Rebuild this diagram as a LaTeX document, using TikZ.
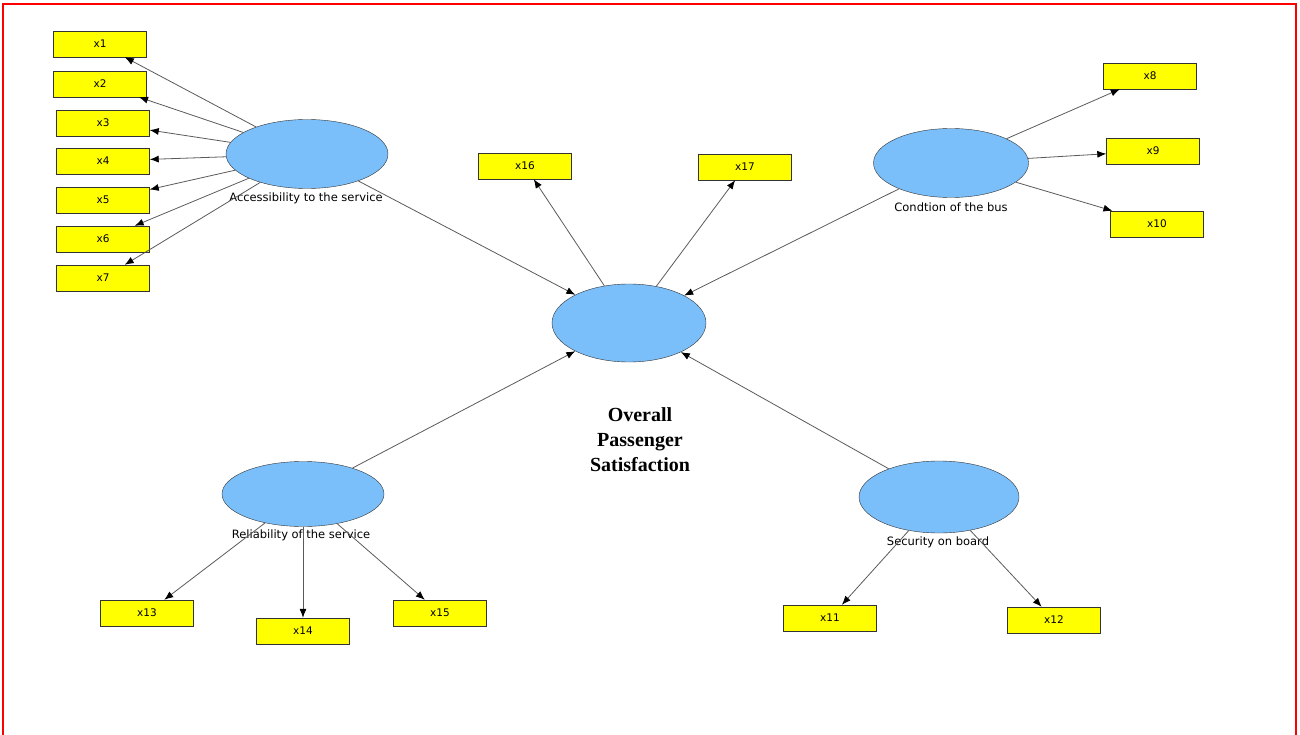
\documentclass[tikz,border=0pt]{standalone}
\usepackage{fontspec}
\setmainfont{DejaVu Sans}
\newfontfamily\titlefont{Liberation Serif}
\usetikzlibrary{shapes.geometric,arrows.meta}
\definecolor{lvblue}{RGB}{123,191,250}
\definecolor{indyellow}{RGB}{255,255,0}
\definecolor{linkgray}{RGB}{90,90,90}
\definecolor{framered}{RGB}{255,0,0}

\begin{document}
\begin{tikzpicture}[x=1pt,y=-1pt,
    ind/.style={shape=rectangle, draw=black!80, fill=indyellow, minimum width=93pt,
      minimum height=26pt, inner sep=0pt, font=\fontsize{10.5}{12}\selectfont},
    lv/.style={shape=ellipse, draw=black!80, fill=lvblue, inner sep=0pt},
    lvlabel/.style={font=\fontsize{11.5}{13}\selectfont, inner sep=0pt},
    link/.style={draw=linkgray, line width=0.8pt,
      -{Latex[length=9pt,width=7pt,color=black]}}]
    \useasboundingbox (0,0) rectangle (1300,735);
    % frame
    \draw[framered, line width=2pt] (3,735) -- (3,4) -- (1296,4) -- (1296,735);

    % latent variables
    \node[lv, minimum width=162pt, minimum height=69pt] at (307,154) (ACC) {};
    \node[lvlabel] at (306,198) (ACClab) {Accessibility to the service};
    \node[lv, minimum width=155pt, minimum height=69pt] at (951,163) (BUS) {};
    \node[lvlabel] at (951,207) (BUSlab) {Condtion of the bus};
    \node[lv, minimum width=162pt, minimum height=65pt] at (303,494) (REL) {};
    \node[lvlabel] at (301,535) (RELlab) {Reliability of the service};
    \node[lv, minimum width=160pt, minimum height=72pt] at (939,497) (SEC) {};
    \node[lvlabel] at (938,542) (SEClab) {Security on board};
    \node[lv, minimum width=154pt, minimum height=78pt] at (629,323) (OPS) {};
    \node[align=center, font=\titlefont\bfseries\fontsize{20}{25}\selectfont] at (640,440) (OPSlab)
      {Overall\\Passenger\\Satisfaction};

    % indicators
    \node[ind] at (100,44) (x1) {x1};
    \node[ind] at (100,84) (x2) {x2};
    \node[ind] at (103,123) (x3) {x3};
    \node[ind] at (103,161) (x4) {x4};
    \node[ind] at (103,200) (x5) {x5};
    \node[ind] at (103,239) (x6) {x6};
    \node[ind] at (103,278) (x7) {x7};
    \node[ind] at (1150,76) (x8) {x8};
    \node[ind] at (1153,151) (x9) {x9};
    \node[ind] at (1157,224) (x10) {x10};
    \node[ind] at (830,618) (x11) {x11};
    \node[ind] at (1054,620) (x12) {x12};
    \node[ind] at (147,613) (x13) {x13};
    \node[ind] at (303,631) (x14) {x14};
    \node[ind] at (440,613) (x15) {x15};
    \node[ind] at (525,166) (x16) {x16};
    \node[ind] at (745,167) (x17) {x17};

    % outer model
    \foreach \i in {1,...,7}
      \path[link] (ACC) edge (x\i);
    \foreach \i in {8,9,10}
      \path[link] (BUS) edge (x\i);
    \foreach \i in {11,12}
      \path[link] (SEC) edge (x\i);
    \foreach \i in {13,14,15}
      \path[link] (REL) edge (x\i);
    \foreach \i in {16,17}
      \path[link] (OPS) edge (x\i);

    % inner model
    \path[link] (ACC) edge (OPS);
    \path[link] (BUS) edge (OPS);
    \path[link] (REL) edge (OPS);
    \path[link] (SEC) edge (OPS);
\end{tikzpicture}
\end{document}
